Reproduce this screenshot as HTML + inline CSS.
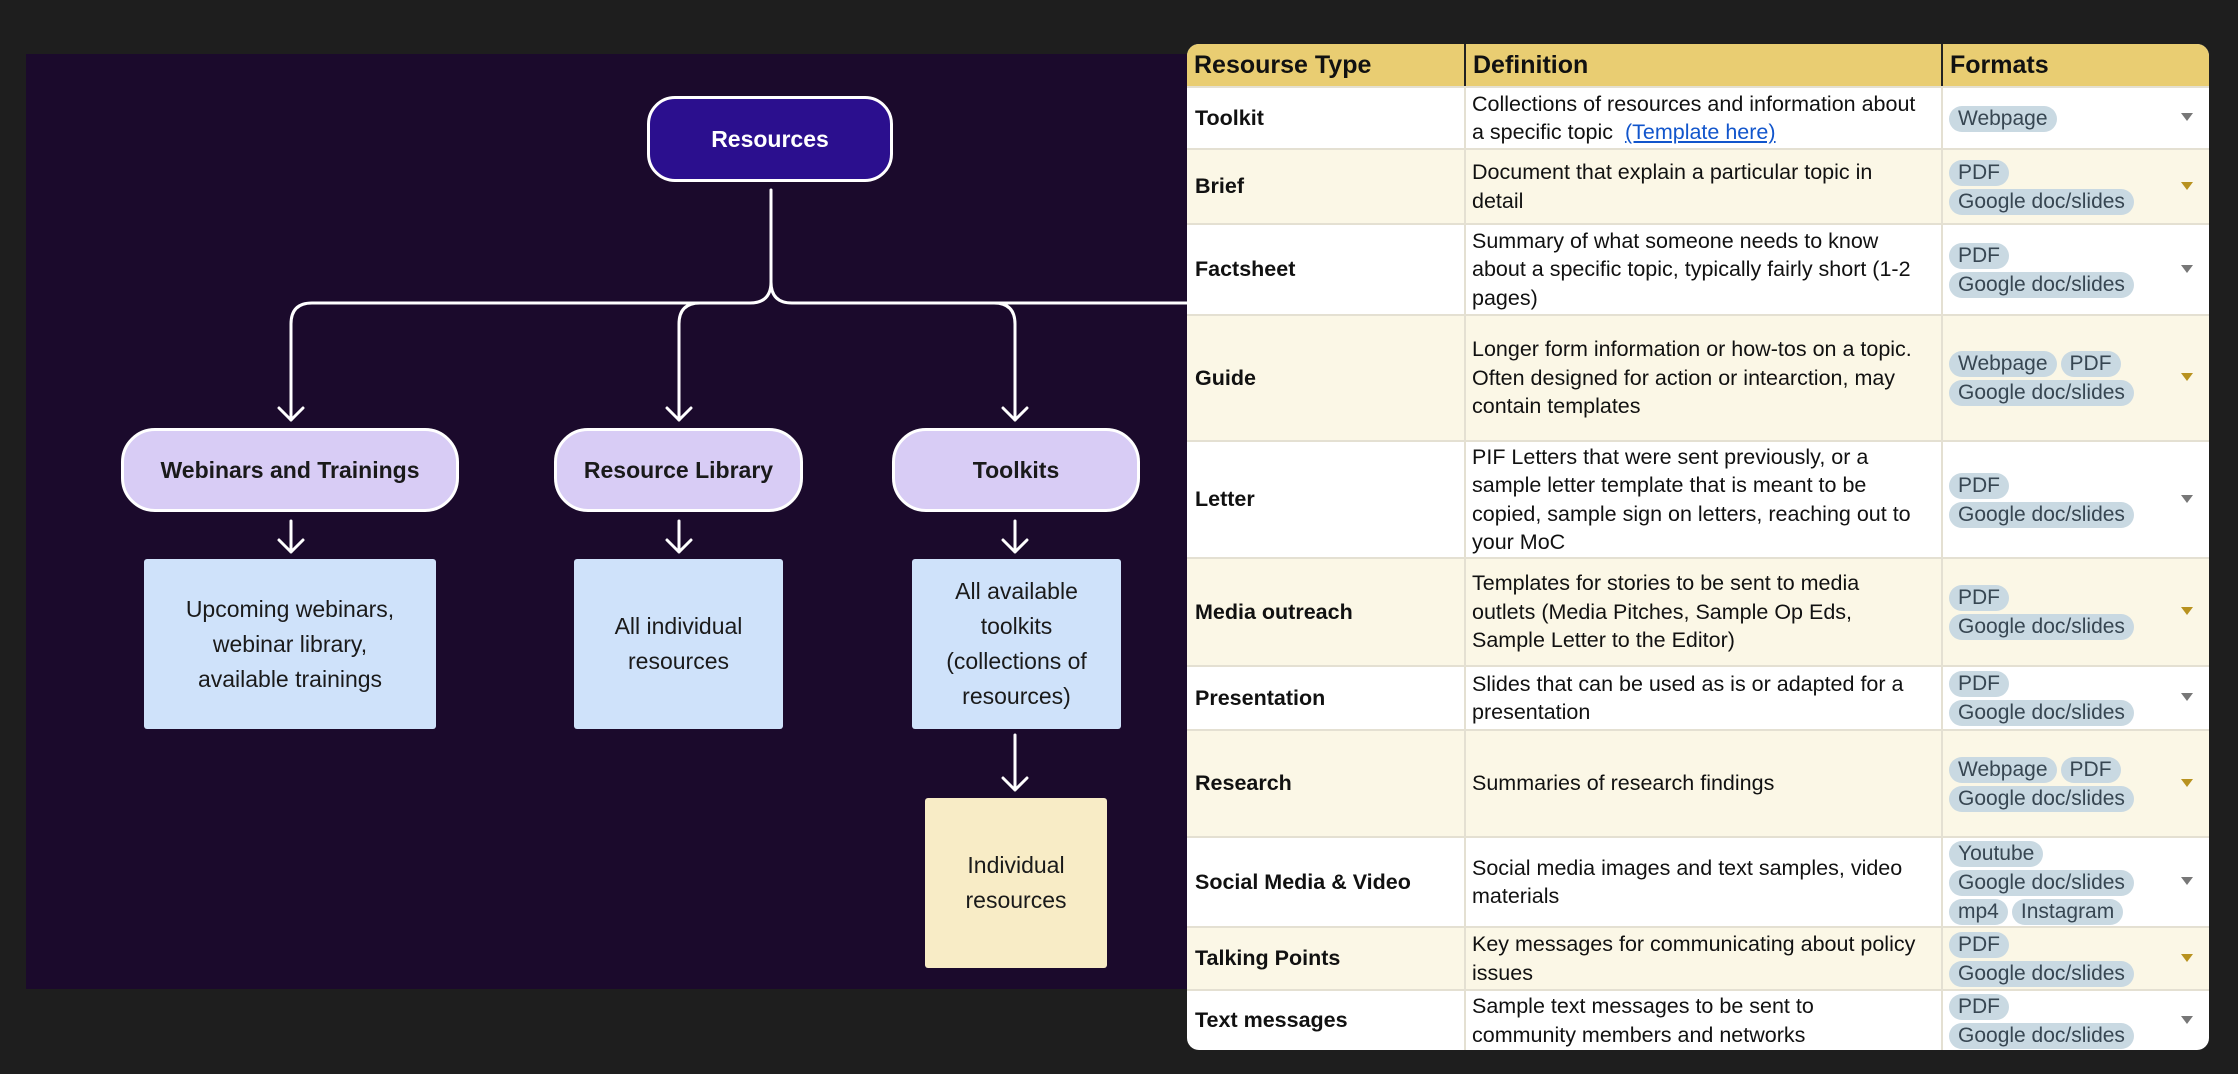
<!DOCTYPE html>
<html><head><meta charset="utf-8"><style>
*{margin:0;padding:0;box-sizing:border-box}
body{width:2238px;height:1074px;background:#1e1e1e;position:relative;overflow:hidden;font-family:"Liberation Sans",Arial,sans-serif}
.canvas{position:absolute;left:26px;top:54px;width:1170px;height:935px;background:#1b0a2c}
.n{position:absolute;display:flex;align-items:center;justify-content:center;text-align:center;font-weight:bold;font-size:23px;color:#1a1a1a}
.mid{background:#d8ccf5;border:3px solid #fff;border-radius:34px;top:428px;height:84px}
.box{position:absolute;display:flex;align-items:center;justify-content:center;text-align:center;font-size:23px;line-height:35px;color:#1a1a1a;border-radius:3px}
.tbl{position:absolute;left:1187px;top:44px;width:1022px;height:1006px;background:#fff;border-radius:12px;overflow:hidden}
.row{position:absolute;left:0;width:1022px;border-top:2px solid #e4e0d2}
.c{position:absolute;top:0;bottom:0;display:flex;align-items:center;font-size:21.5px;line-height:28.5px;color:#111}
.c1{left:0;width:277px;padding-left:8px;font-weight:bold}
.c2{left:277px;width:477px;padding-left:6px;border-left:2px solid #e4e0d2}
.c3{left:754px;width:268px;padding-left:6px;border-left:2px solid #e4e0d2;flex-direction:column;align-items:flex-start;justify-content:center}
.y{background:#fbf7e6}
.chip{display:inline-block;background:#c9d9e2;color:#374652;border-radius:14px;padding:0 9px;height:26px;line-height:26px;margin:1px 4px 1px 0;font-size:21px}
.ln{display:block;white-space:nowrap}
.dd{position:absolute;right:16px;top:50%;margin-top:-5px;width:0;height:0;border-left:6px solid transparent;border-right:6px solid transparent;border-top:8px solid #777}
.y .dd{border-top-color:#b8921f}
.hd{position:absolute;left:0;top:0;width:1022px;height:42px;background:#e9cd72;font-weight:bold;font-size:25px;color:#111}
.hd div{position:absolute;top:0;height:42px;line-height:42px;padding-left:7px}
</style></head><body>
<div class="canvas"></div>
<svg style="position:absolute;left:0;top:0" width="2238" height="1074">
<g fill="none" stroke="#fff" stroke-width="3" stroke-linecap="round" stroke-linejoin="round">
<path d="M771,190 V282 Q771,303 750,303 H312 Q291,303 291,324 V420"/>
<path d="M700,303 Q679,303 679,324 V420"/>
<path d="M771,282 Q771,303 792,303 H1190"/>
<path d="M994,303 Q1015,303 1015,324 V420"/>
<path d="M279,408 L291,420 L303,408 M667,408 L679,420 L691,408 M1003,408 L1015,420 L1027,408"/>
<path d="M291,521 V552 M279,540 L291,552 L303,540"/>
<path d="M679,521 V552 M667,540 L679,552 L691,540"/>
<path d="M1015,521 V552 M1003,540 L1015,552 L1027,540"/>
<path d="M1015,735 V790 M1003,778 L1015,790 L1027,778"/>
</g></svg>
<div class="n" style="left:647px;top:96px;width:246px;height:86px;background:#2b0f8e;border:3px solid #fff;border-radius:28px;color:#fff">Resources</div>
<div class="n mid" style="left:121px;width:338px">Webinars and Trainings</div>
<div class="n mid" style="left:554px;width:249px">Resource Library</div>
<div class="n mid" style="left:892px;width:248px">Toolkits</div>
<div class="box" style="left:144px;top:559px;width:292px;height:170px;background:#cfe2fa">Upcoming webinars,<br>webinar library,<br>available trainings</div>
<div class="box" style="left:574px;top:559px;width:209px;height:170px;background:#cfe2fa">All individual<br>resources</div>
<div class="box" style="left:912px;top:559px;width:209px;height:170px;background:#cfe2fa">All available<br>toolkits<br>(collections of<br>resources)</div>
<div class="box" style="left:925px;top:798px;width:182px;height:170px;background:#f8ecc6">Individual<br>resources</div>

<div class="tbl">
<div class="hd"><div style="left:0">Resourse Type</div><div style="left:277px;border-left:2px solid #222">Definition</div><div style="left:754px;border-left:2px solid #222">Formats</div></div>

<div class="row" style="top:42px;height:62px"><div class="c c1">Toolkit</div><div class="c c2"><span>Collections of resources and information about<br>a specific topic &nbsp;<span style="color:#1155cc;text-decoration:underline">(Template here)</span></span></div><div class="c c3"><span class="ln"><span class="chip">Webpage</span></span><div class="dd"></div></div></div>

<div class="row y" style="top:104px;height:75px"><div class="c c1">Brief</div><div class="c c2"><span>Document that explain a particular topic in<br>detail</span></div><div class="c c3"><span class="ln"><span class="chip">PDF</span></span><span class="ln"><span class="chip">Google doc/slides</span></span><div class="dd"></div></div></div>

<div class="row" style="top:179px;height:91px"><div class="c c1">Factsheet</div><div class="c c2"><span>Summary of what someone needs to know<br>about a specific topic, typically fairly short (1-2<br>pages)</span></div><div class="c c3"><span class="ln"><span class="chip">PDF</span></span><span class="ln"><span class="chip">Google doc/slides</span></span><div class="dd"></div></div></div>

<div class="row y" style="top:270px;height:126px"><div class="c c1">Guide</div><div class="c c2"><span>Longer form information or how-tos on a topic.<br>Often designed for action or intearction, may<br>contain templates</span></div><div class="c c3"><span class="ln"><span class="chip">Webpage</span><span class="chip">PDF</span></span><span class="ln"><span class="chip">Google doc/slides</span></span><div class="dd"></div></div></div>

<div class="row" style="top:396px;height:117px"><div class="c c1">Letter</div><div class="c c2"><span>PIF Letters that were sent previously, or a<br>sample letter template that is meant to be<br>copied, sample sign on letters, reaching out to<br>your MoC</span></div><div class="c c3"><span class="ln"><span class="chip">PDF</span></span><span class="ln"><span class="chip">Google doc/slides</span></span><div class="dd"></div></div></div>

<div class="row y" style="top:513px;height:108px"><div class="c c1">Media outreach</div><div class="c c2"><span>Templates for stories to be sent to media<br>outlets (Media Pitches, Sample Op Eds,<br>Sample Letter to the Editor)</span></div><div class="c c3"><span class="ln"><span class="chip">PDF</span></span><span class="ln"><span class="chip">Google doc/slides</span></span><div class="dd"></div></div></div>

<div class="row" style="top:621px;height:64px"><div class="c c1">Presentation</div><div class="c c2"><span>Slides that can be used as is or adapted for a<br>presentation</span></div><div class="c c3"><span class="ln"><span class="chip">PDF</span></span><span class="ln"><span class="chip">Google doc/slides</span></span><div class="dd"></div></div></div>

<div class="row y" style="top:685px;height:107px"><div class="c c1">Research</div><div class="c c2"><span>Summaries of research findings</span></div><div class="c c3"><span class="ln"><span class="chip">Webpage</span><span class="chip">PDF</span></span><span class="ln"><span class="chip">Google doc/slides</span></span><div class="dd"></div></div></div>

<div class="row" style="top:792px;height:90px"><div class="c c1">Social Media &amp; Video</div><div class="c c2"><span>Social media images and text samples, video<br>materials</span></div><div class="c c3"><span class="ln"><span class="chip">Youtube</span></span><span class="ln"><span class="chip">Google doc/slides</span></span><span class="ln"><span class="chip">mp4</span><span class="chip">Instagram</span></span><div class="dd"></div></div></div>

<div class="row y" style="top:882px;height:63px"><div class="c c1">Talking Points</div><div class="c c2"><span>Key messages for communicating about policy<br>issues</span></div><div class="c c3"><span class="ln"><span class="chip">PDF</span></span><span class="ln"><span class="chip">Google doc/slides</span></span><div class="dd"></div></div></div>

<div class="row" style="top:945px;height:61px"><div class="c c1">Text messages</div><div class="c c2"><span>Sample text messages to be sent to<br>community members and networks</span></div><div class="c c3"><span class="ln"><span class="chip">PDF</span></span><span class="ln"><span class="chip">Google doc/slides</span></span><div class="dd"></div></div></div>
</div>
</body></html>
